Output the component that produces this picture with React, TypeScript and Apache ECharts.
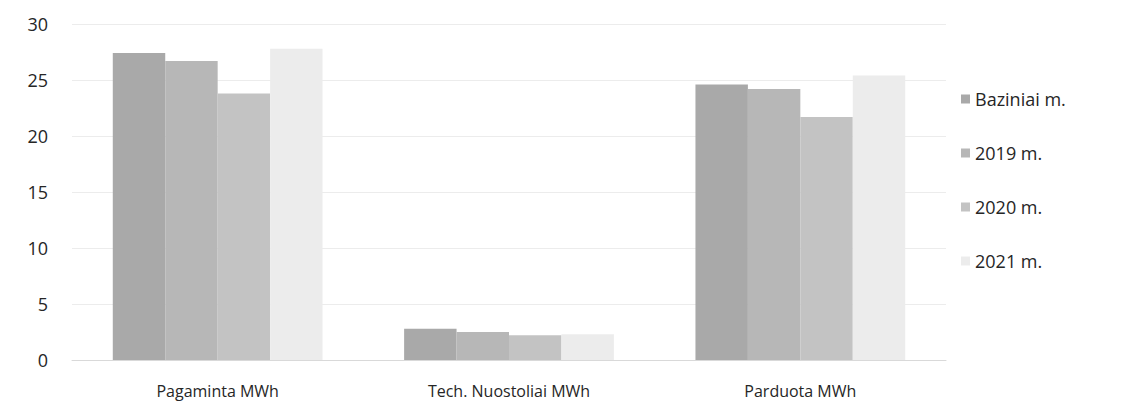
import React, { useEffect, useRef } from "react";
import * as echarts from "echarts";

const categories = ["Pagaminta MWh", "Tech. Nuostoliai MWh", "Parduota MWh"];
const seriesNames = ["Baziniai m.", "2019 m.", "2020 m.", "2021 m."];
const baziniai = [27.4, 2.8, 24.6];
const y2019 = [26.7, 2.5, 24.2];
const y2020 = [23.8, 2.2, 21.7];
const y2021 = [27.8, 2.3, 25.4];
const colors = ["#a9a9a9", "#b7b7b7", "#c3c3c3", "#ececec"];

export default function App() {
  const ref = useRef<HTMLDivElement>(null);
  useEffect(() => {
    document.body.style.margin = "0";
    const chart = echarts.init(ref.current!, null, { renderer: "svg" });
    const values = [baziniai, y2019, y2020, y2021];
    chart.setOption({
      animation: false,
      backgroundColor: "#ffffff",
      textStyle: { fontFamily: "Open Sans" },
      grid: { left: 72, right: 184, top: 24, bottom: 59 },
      legend: {
        orient: "vertical",
        left: 956,
        top: 85,
        itemGap: 36,
        itemWidth: 9,
        itemHeight: 9,
        icon: "rect",
        textStyle: { fontSize: 18, color: "#262626", fontFamily: "Open Sans" },
        data: seriesNames,
      },
      xAxis: {
        type: "category",
        data: categories,
        axisLine: { show: true, lineStyle: { color: "#d9d9d9" } },
        axisTick: { show: false },
        axisLabel: { fontSize: 16, color: "#262626", margin: 23 },
      },
      yAxis: {
        type: "value",
        min: 0,
        max: 30,
        interval: 5,
        axisLine: { show: false },
        axisTick: { show: false },
        axisLabel: { fontSize: 18, color: "#262626", margin: 24 },
        splitLine: { lineStyle: { color: "#ececec" } },
      },
      series: seriesNames.map((name, i) => ({
        name,
        type: "bar",
        data: values[i],
        barGap: "0%",
        barCategoryGap: "28%",
        itemStyle: { color: colors[i] },
      })),
    });
    return () => chart.dispose();
  }, []);
  return <div ref={ref} style={{ width: 1130, height: 419 }} />;
}
